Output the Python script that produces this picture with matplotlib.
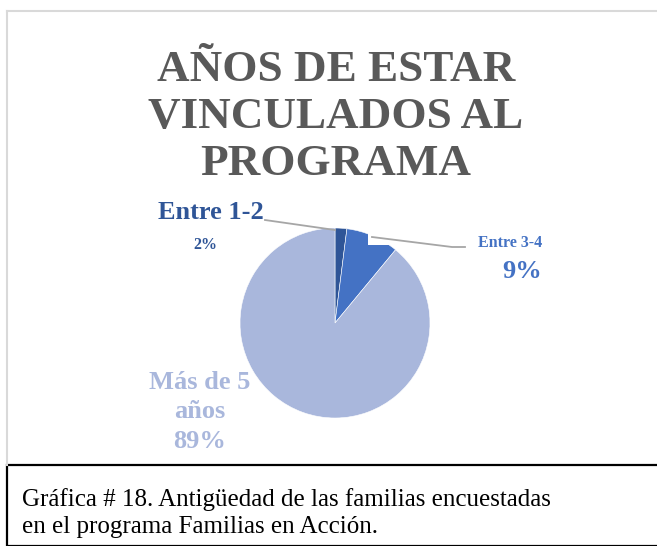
import matplotlib
matplotlib.use("Agg")
import matplotlib.pyplot as plt
from matplotlib.lines import Line2D
from matplotlib.patches import Rectangle

categories = ["Entre 1-2", "Entre 3-4", "Más de 5 años"]
values = [2, 9, 89]
pct_labels = ["2%", "9%", "89%"]
title = "AÑOS DE ESTAR\nVINCULADOS AL\nPROGRAMA"
caption = "Gráfica # 18. Antigüedad de las familias encuestadas\nen el programa Familias en Acción."

colors = ["#2F5597", "#4472C4", "#A9B7DC"]
W, H = 657, 546
fig = plt.figure(figsize=(W / 100, H / 100), dpi=100)
plt.rcParams['font.family'] = ['Liberation Serif', 'DejaVu Serif']

def fx(x): return x / W
def fy(y): return 1 - y / H

# chart border (light gray)
fig.add_artist(Line2D([fx(7), fx(657)], [fy(11), fy(11)], color="#D9D9D9", lw=1.5))
fig.add_artist(Line2D([fx(7), fx(7)], [fy(11), fy(465)], color="#D9D9D9", lw=1.5))
# caption box (black)
fig.add_artist(Rectangle((fx(7), fy(546)), fx(657) - fx(7) + 0.01, fy(465) - fy(546),
                         transform=fig.transFigure, fill=False, edgecolor="black", lw=1.6))

fig.text(fx(336), fy(117), title, ha="center", va="center", fontsize=32.5, fontweight="bold",
         color="#595959", linespacing=1.24)

cx, cy, r = 335, 323, 95
ax = fig.add_axes([fx(cx - r), fy(cy + r), (2 * r) / W, (2 * r) / H])
ax.pie(values, colors=colors, startangle=90, counterclock=False, radius=1,
       wedgeprops=dict(linewidth=0.4, edgecolor="white"))
ax.set_xlim(-1, 1)
ax.set_ylim(-1, 1)
ax.set_aspect("equal")
ax.axis("off")

# white label background box partially covering pie
fig.add_artist(Rectangle((fx(368), fy(245)), (396 - 368) / W, (245 - 226) / H,
                         transform=fig.transFigure, facecolor="white", edgecolor="none", zorder=5))

# leader lines
fig.add_artist(Line2D([fx(265), fx(335)], [fy(220), fy(230)], color="#A6A6A6", lw=1.3, zorder=6))
fig.add_artist(Line2D([fx(372), fx(452), fx(465)], [fy(237), fy(247), fy(247)], color="#A6A6A6", lw=1.3, zorder=6))

# labels
fig.text(fx(211), fy(213), categories[0], ha="center", va="center", fontsize=19,
         fontweight="bold", color=colors[0])
fig.text(fx(205), fy(245), pct_labels[0], ha="center", va="center", fontsize=11.5,
         fontweight="bold", color=colors[0])
fig.text(fx(510), fy(243), categories[1], ha="center", va="center", fontsize=11.5,
         fontweight="bold", color=colors[1])
fig.text(fx(522), fy(272), pct_labels[1], ha="center", va="center", fontsize=19,
         fontweight="bold", color=colors[1])
fig.text(fx(200), fy(412), "Más de 5\naños\n" + pct_labels[2], ha="center", va="center",
         fontsize=19, fontweight="bold", color=colors[2], linespacing=1.35)

fig.text(fx(22), fy(513), caption, ha="left", va="center", fontsize=18, color="black",
         linespacing=1.25)

fig.savefig("out.png", dpi=100)
